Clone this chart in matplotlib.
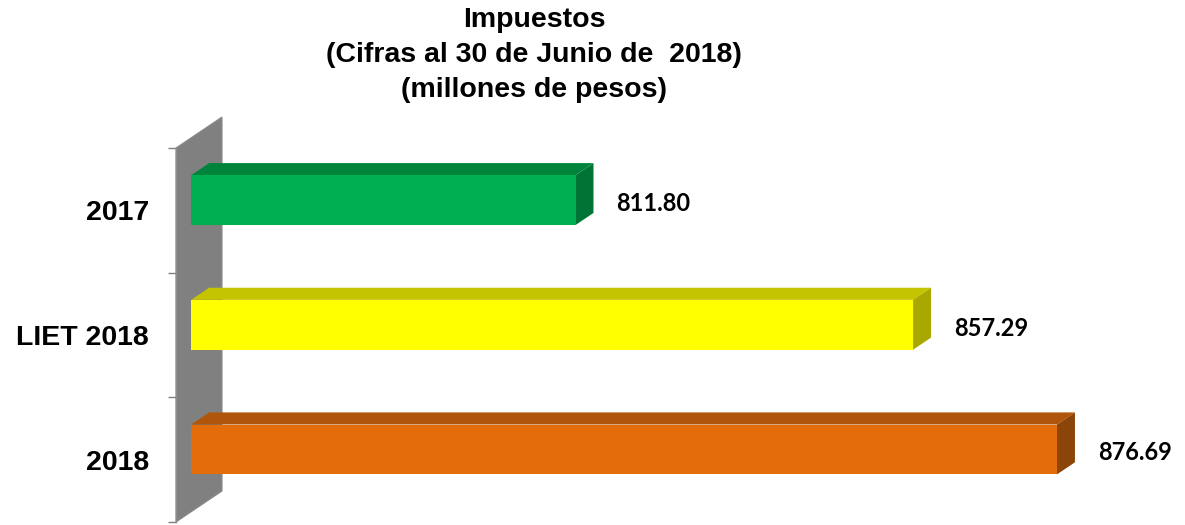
import matplotlib
matplotlib.use("Agg")
from matplotlib import pyplot as plt
from matplotlib.patches import Polygon

categories = ["2017", "LIET 2018", "2018"]
values = [811.80, 857.29, 876.69]
labels = ["811.80", "857.29", "876.69"]
front_colors = ["#00B050", "#FFFF00", "#E46C0A"]
top_colors = ["#00843C", "#C4C400", "#B0560A"]
side_colors = ["#007434", "#A8A800", "#8C4508"]
title_lines = ["Impuestos", "(Cifras al 30 de Junio de  2018)", "(millones de pesos)"]

W, H = 1185, 525
fig = plt.figure(figsize=(W / 100, H / 100), dpi=100)

# plot area (front plane) in pixels
left_px, right_px, top_px, bot_px = 176, 1185, 148, 522
ax = fig.add_axes([left_px / W, (H - bot_px) / H, (right_px - left_px) / W, (bot_px - top_px) / H])
xmin = 760
ppx = 7.42
xmax = xmin + (right_px - left_px) / ppx
ax.set_xlim(xmin, xmax)
ax.set_ylim(len(categories) - 0.5, -0.5)
ppy = (bot_px - top_px) / len(categories)

# depth of the 3d box, in data units
ddx = 46 / ppx
ddy = -31 / ppy
f0, f1 = 0.33, 0.72   # bar depth range
half = 0.2

def shift(pts, f):
    return [(x + f * ddx, y + f * ddy) for x, y in pts]

# back wall
y0, y1 = -0.5, len(categories) - 0.5
wall = [(xmin, y0), (xmin + ddx, y0 + ddy), (xmin + ddx, y1 + ddy), (xmin, y1)]
ax.add_patch(Polygon(wall, closed=True, fc="#808080", ec="#8a8a8a", lw=0.8, clip_on=False, zorder=1))

for i, (v, lab) in enumerate(zip(values, labels)):
    front = [(xmin, i - half), (v, i - half), (v, i + half), (xmin, i + half)]
    top = [(xmin, i - half), (v, i - half)]
    top = shift(top, f0) + shift(top[::-1], f1)
    side = [(v, i - half), (v, i + half)]
    side = shift(side, f0) + shift(side[::-1], f1)
    ax.add_patch(Polygon(top, closed=True, fc=top_colors[i], ec="none", clip_on=False, zorder=2))
    ax.add_patch(Polygon(side, closed=True, fc=side_colors[i], ec="none", clip_on=False, zorder=2))
    ax.add_patch(Polygon(shift(front, f0), closed=True, fc=front_colors[i], ec="none", clip_on=False, zorder=3))
    fx, fy = v + f0 * ddx, i + f0 * ddy
    ax.annotate(lab, xy=(fx, fy), xytext=(41, -11), textcoords="offset pixels",
                ha="left", va="baseline", fontsize=17, fontweight="bold", family="Lato",
                color="black", annotation_clip=False)
    ax.annotate(categories[i], xy=(xmin, i), xytext=(-27, -10), textcoords="offset pixels",
                ha="right", va="baseline", fontsize=20.5, fontweight="bold",
                family="Liberation Sans", color="black", annotation_clip=False)

ax.set_yticks([k - 0.5 for k in range(len(categories) + 1)])
ax.set_yticklabels([])
ax.set_xticks([])
ax.tick_params(axis="y", length=6, width=1, color="#808080", direction="out")
for s in ["top", "right", "bottom"]:
    ax.spines[s].set_visible(False)
ax.spines["left"].set_color("#8c8c8c")
ax.spines["left"].set_linewidth(1)
ax.patch.set_alpha(0)

for k, line in enumerate(title_lines):
    fig.text(534 / W, 1 - (27 + 35 * k) / H, line, ha="center", va="baseline",
             fontsize=20.5, fontweight="bold", family="Liberation Sans")

fig.savefig("out.png", dpi=100)
